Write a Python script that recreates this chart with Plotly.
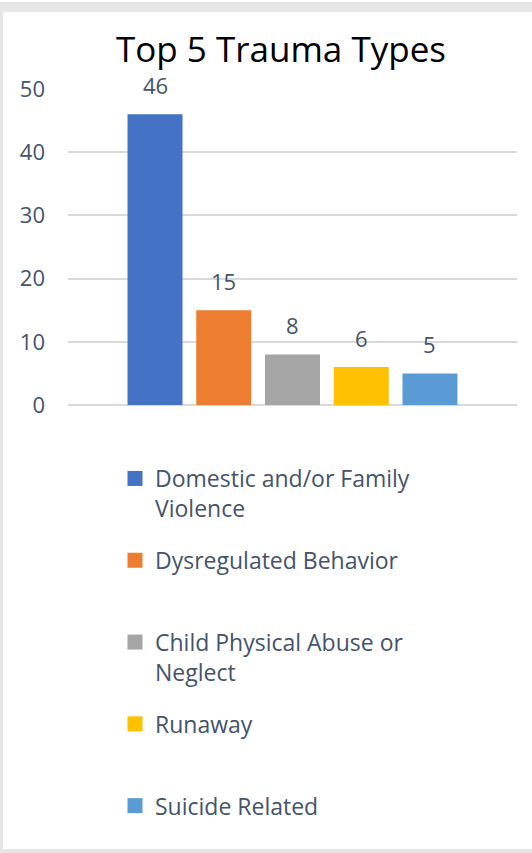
import plotly.graph_objects as go

categories = ["Domestic and/or Family Violence", "Dysregulated Behavior",
              "Child Physical Abuse or Neglect", "Runaway", "Suicide Related"]
legend_labels = ["Domestic and/or Family<br>Violence", "Dysregulated Behavior<br> ",
                 "Child Physical Abuse or<br>Neglect", "Runaway<br> ", "Suicide Related<br> "]
values = [46, 15, 8, 6, 5]
colors = ["#4472C4", "#ED7D31", "#A5A5A5", "#FFC000", "#5B9BD5"]
y_ticks = [0, 10, 20, 30, 40, 50]

W, H = 532, 853
L, R, T, B = 68, 15, 89, 448
PW, PH = W - L - R, H - T - B
TEXT = "#44546A"
FONT = "Open Sans"

def px(x):
    return (x - L) / PW

def py(y):
    return (H - B - y) / PH

fig = go.Figure()
for i, (cat, lab, v, c) in enumerate(zip(categories, legend_labels, values, colors)):
    fig.add_trace(go.Bar(x=[cat], y=[v], name=lab, marker=dict(color=c, line=dict(width=0)),
                         legendgroup=f"g{i}", showlegend=False, hoverinfo="x+y"))
    # legend entry (larger square key, no visible mark in the plot)
    fig.add_trace(go.Scatter(x=[cat], y=[None], name=lab, mode="markers",
                             marker=dict(symbol="square", size=15, color=c),
                             legendgroup=f"g{i}", showlegend=True, hoverinfo="skip"))
    fig.add_annotation(x=cat, y=v, text=str(v), showarrow=False, yanchor="bottom",
                       yshift=12, font=dict(family=FONT, size=22, color=TEXT))

fig.update_layout(
    width=W, height=H,
    margin=dict(l=L, r=R, t=T, b=B, autoexpand=False),
    paper_bgcolor="white", plot_bgcolor="white",
    barmode="group", bargap=0.2,
    title=dict(text="Top 5 Trauma Types", x=px(281), xanchor="center", xref="paper",
               y=1 - 50 / H, yanchor="middle", yref="container",
               font=dict(family=FONT, size=35, color="black")),
    xaxis=dict(range=[-0.5 - 0.766, 4.5 + 0.766], showticklabels=False, showgrid=False,
               zeroline=False, showline=False, fixedrange=True),
    yaxis=dict(range=[0, 50], tickvals=y_ticks, showgrid=True, gridcolor="#D9D9D9", gridwidth=1.5,
               zeroline=True, zerolinecolor="#D9D9D9", zerolinewidth=1.5,
               tickfont=dict(family=FONT, size=22, color=TEXT), ticklabelstandoff=22,
               showline=False),
    showlegend=True,
    legend=dict(orientation="v", x=px(115), xanchor="left", y=py(457), yanchor="top",
                valign="top", traceorder="grouped", tracegroupgap=19,
                font=dict(family=FONT, size=23, color=TEXT), bgcolor="rgba(0,0,0,0)"),
    shapes=[
        dict(type="rect", xref="paper", yref="paper", x0=px(0), x1=px(W), y0=py(12), y1=py(2),
             fillcolor="#E6E6E6", line=dict(width=0), layer="below"),
        dict(type="rect", xref="paper", yref="paper", x0=px(0), x1=px(3), y0=py(H), y1=py(12),
             fillcolor="#E6E6E6", line=dict(width=0), layer="below"),
        dict(type="rect", xref="paper", yref="paper", x0=px(0), x1=px(W), y0=py(H), y1=py(849),
             fillcolor="#E6E6E6", line=dict(width=0), layer="below"),
    ],
)

fig.write_html("out.html", config={"displayModeBar": False},
               post_script="document.body.style.margin='0';document.body.style.overflow='hidden';")
